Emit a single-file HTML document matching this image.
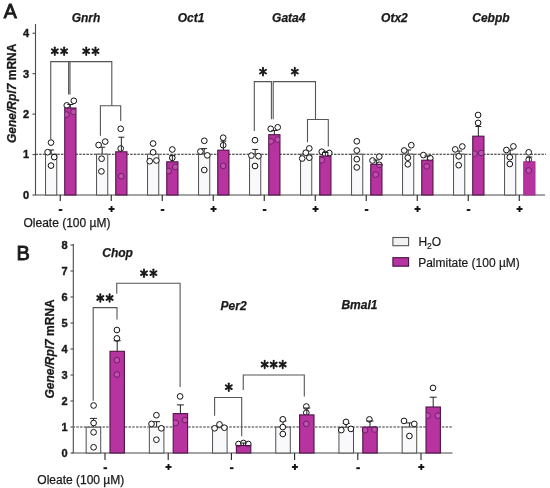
<!DOCTYPE html>
<html><head><meta charset="utf-8"><title>Figure</title>
<style>
html,body{margin:0;padding:0;background:#fff;}
body{width:550px;height:488px;overflow:hidden;font-family:"Liberation Sans", sans-serif;}
svg{display:block;filter:blur(0.3px);}
</style></head><body>
<svg width="550" height="488" viewBox="0 0 550 488"><rect width="550" height="488" fill="#fff"/><g stroke="#4a4a4a" stroke-width="1.1" fill="none"><line x1="35.5" y1="24" x2="35.5" y2="195.0"/><line x1="35" y1="195.0" x2="545" y2="195.0"/><line x1="32.5" y1="195.00" x2="35.5" y2="195.00"/><line x1="32.5" y1="154.56" x2="35.5" y2="154.56"/><line x1="32.5" y1="114.12" x2="35.5" y2="114.12"/><line x1="32.5" y1="73.68" x2="35.5" y2="73.68"/><line x1="32.5" y1="33.24" x2="35.5" y2="33.24"/><line x1="60.25" y1="195.0" x2="60.25" y2="201.0" stroke="#222"/><line x1="111.25" y1="195.0" x2="111.25" y2="201.0" stroke="#222"/><line x1="162.25" y1="195.0" x2="162.25" y2="201.0" stroke="#222"/><line x1="213.25" y1="195.0" x2="213.25" y2="201.0" stroke="#222"/><line x1="264.25" y1="195.0" x2="264.25" y2="201.0" stroke="#222"/><line x1="315.25" y1="195.0" x2="315.25" y2="201.0" stroke="#222"/><line x1="366.25" y1="195.0" x2="366.25" y2="201.0" stroke="#222"/><line x1="417.25" y1="195.0" x2="417.25" y2="201.0" stroke="#222"/><line x1="468.25" y1="195.0" x2="468.25" y2="201.0" stroke="#222"/><line x1="519.25" y1="195.0" x2="519.25" y2="201.0" stroke="#222"/></g><line x1="35.5" y1="154.3" x2="546" y2="154.3" stroke="#262626" stroke-width="1.1" stroke-dasharray="2.5 1.14" stroke-dashoffset="0"/><line x1="51.15" y1="154.2" x2="51.15" y2="150.0" stroke="#222" stroke-width="1"/><line x1="48.15" y1="150.0" x2="54.15" y2="150.0" stroke="#222" stroke-width="1"/><rect x="45.55" y="154.2" width="11.200000000000003" height="40.80000000000001" fill="#f9f9fb" stroke="#505050" stroke-width="1"/><circle cx="51.0" cy="142.6" r="2.85" fill="#fff" stroke="#111" stroke-width="1.0"/><circle cx="47.6" cy="152.2" r="2.85" fill="#fff" stroke="#111" stroke-width="1.0"/><circle cx="54.2" cy="157.1" r="2.85" fill="#fff" stroke="#111" stroke-width="1.0"/><circle cx="51.0" cy="165.6" r="2.85" fill="#fff" stroke="#111" stroke-width="1.0"/><circle cx="73.8" cy="100.8" r="2.85" fill="#fff" stroke="#111" stroke-width="1.0"/><circle cx="66.8" cy="105.4" r="2.85" fill="#fff" stroke="#111" stroke-width="1.0"/><rect x="64.75" y="108.0" width="11.200000000000003" height="87.0" fill="#b7339f" stroke="#4e1448" stroke-width="1.1"/><clipPath id="c1"><rect x="65.25" y="108.6" width="10.200000000000003" height="86.4"/></clipPath><g clip-path="url(#c1)"><circle cx="73.8" cy="100.8" r="2.85" fill="#c44db2" stroke="#6a2062" stroke-width="1.0"/><circle cx="66.8" cy="105.4" r="2.85" fill="#c44db2" stroke="#6a2062" stroke-width="1.0"/><circle cx="66.5" cy="114.6" r="2.85" fill="#c44db2" stroke="#6a2062" stroke-width="1.0"/><circle cx="73.5" cy="111.8" r="2.85" fill="#c44db2" stroke="#6a2062" stroke-width="1.0"/></g><line x1="70.35" y1="108.0" x2="70.35" y2="104.5" stroke="#222" stroke-width="1"/><line x1="67.35" y1="104.5" x2="73.35" y2="104.5" stroke="#222" stroke-width="1"/><line x1="102.15" y1="154.2" x2="102.15" y2="147.2" stroke="#222" stroke-width="1"/><line x1="99.15" y1="147.2" x2="105.15" y2="147.2" stroke="#222" stroke-width="1"/><rect x="96.55" y="154.2" width="11.200000000000003" height="40.80000000000001" fill="#f9f9fb" stroke="#505050" stroke-width="1"/><circle cx="98.6" cy="145.0" r="2.85" fill="#fff" stroke="#111" stroke-width="1.0"/><circle cx="105.2" cy="141.6" r="2.85" fill="#fff" stroke="#111" stroke-width="1.0"/><circle cx="101.6" cy="158.7" r="2.85" fill="#fff" stroke="#111" stroke-width="1.0"/><circle cx="101.4" cy="171.4" r="2.85" fill="#fff" stroke="#111" stroke-width="1.0"/><circle cx="120.7" cy="128.8" r="2.85" fill="#fff" stroke="#111" stroke-width="1.0"/><circle cx="120.7" cy="148.5" r="2.85" fill="#fff" stroke="#111" stroke-width="1.0"/><rect x="115.75" y="151.8" width="11.200000000000003" height="43.19999999999999" fill="#b7339f" stroke="#4e1448" stroke-width="1.1"/><clipPath id="c2"><rect x="116.25" y="152.4" width="10.200000000000003" height="42.59999999999999"/></clipPath><g clip-path="url(#c2)"><circle cx="120.7" cy="128.8" r="2.85" fill="#c44db2" stroke="#6a2062" stroke-width="1.0"/><circle cx="120.7" cy="148.5" r="2.85" fill="#c44db2" stroke="#6a2062" stroke-width="1.0"/><circle cx="121.2" cy="176.2" r="2.85" fill="#c44db2" stroke="#6a2062" stroke-width="1.0"/></g><line x1="121.35" y1="151.8" x2="121.35" y2="137.2" stroke="#222" stroke-width="1"/><line x1="118.35" y1="137.2" x2="124.35" y2="137.2" stroke="#222" stroke-width="1"/><line x1="153.15" y1="154.2" x2="153.15" y2="152.0" stroke="#222" stroke-width="1"/><line x1="150.15" y1="152.0" x2="156.15" y2="152.0" stroke="#222" stroke-width="1"/><rect x="147.55" y="154.2" width="11.199999999999989" height="40.80000000000001" fill="#f9f9fb" stroke="#505050" stroke-width="1"/><circle cx="153.1" cy="143.5" r="2.85" fill="#fff" stroke="#111" stroke-width="1.0"/><circle cx="153.1" cy="152.3" r="2.85" fill="#fff" stroke="#111" stroke-width="1.0"/><circle cx="149.7" cy="161.2" r="2.85" fill="#fff" stroke="#111" stroke-width="1.0"/><circle cx="156.4" cy="160.5" r="2.85" fill="#fff" stroke="#111" stroke-width="1.0"/><circle cx="172.3" cy="149.5" r="2.85" fill="#fff" stroke="#111" stroke-width="1.0"/><circle cx="172.3" cy="157.9" r="2.85" fill="#fff" stroke="#111" stroke-width="1.0"/><rect x="166.75" y="161.8" width="11.199999999999989" height="33.19999999999999" fill="#b7339f" stroke="#4e1448" stroke-width="1.1"/><clipPath id="c3"><rect x="167.25" y="162.4" width="10.199999999999989" height="32.59999999999999"/></clipPath><g clip-path="url(#c3)"><circle cx="172.3" cy="149.5" r="2.85" fill="#c44db2" stroke="#6a2062" stroke-width="1.0"/><circle cx="172.3" cy="157.9" r="2.85" fill="#c44db2" stroke="#6a2062" stroke-width="1.0"/><circle cx="175.3" cy="166.9" r="2.85" fill="#c44db2" stroke="#6a2062" stroke-width="1.0"/><circle cx="168.7" cy="171.0" r="2.85" fill="#c44db2" stroke="#6a2062" stroke-width="1.0"/></g><line x1="172.35" y1="161.8" x2="172.35" y2="155.6" stroke="#222" stroke-width="1"/><line x1="169.35" y1="155.6" x2="175.35" y2="155.6" stroke="#222" stroke-width="1"/><line x1="204.15" y1="154.2" x2="204.15" y2="148.6" stroke="#222" stroke-width="1"/><line x1="201.15" y1="148.6" x2="207.15" y2="148.6" stroke="#222" stroke-width="1"/><rect x="198.55" y="154.2" width="11.199999999999989" height="40.80000000000001" fill="#f9f9fb" stroke="#505050" stroke-width="1"/><circle cx="204.3" cy="140.8" r="2.85" fill="#fff" stroke="#111" stroke-width="1.0"/><circle cx="200.4" cy="151.5" r="2.85" fill="#fff" stroke="#111" stroke-width="1.0"/><circle cx="207.3" cy="155.4" r="2.85" fill="#fff" stroke="#111" stroke-width="1.0"/><circle cx="204.3" cy="170.0" r="2.85" fill="#fff" stroke="#111" stroke-width="1.0"/><circle cx="223.2" cy="137.7" r="2.85" fill="#fff" stroke="#111" stroke-width="1.0"/><circle cx="223.2" cy="145.2" r="2.85" fill="#fff" stroke="#111" stroke-width="1.0"/><rect x="217.75" y="150.2" width="11.199999999999989" height="44.80000000000001" fill="#b7339f" stroke="#4e1448" stroke-width="1.1"/><clipPath id="c4"><rect x="218.25" y="150.79999999999998" width="10.199999999999989" height="44.20000000000001"/></clipPath><g clip-path="url(#c4)"><circle cx="223.2" cy="137.7" r="2.85" fill="#c44db2" stroke="#6a2062" stroke-width="1.0"/><circle cx="223.2" cy="145.2" r="2.85" fill="#c44db2" stroke="#6a2062" stroke-width="1.0"/><circle cx="223.2" cy="165.9" r="2.85" fill="#c44db2" stroke="#6a2062" stroke-width="1.0"/></g><line x1="223.35" y1="150.2" x2="223.35" y2="141.1" stroke="#222" stroke-width="1"/><line x1="220.35" y1="141.1" x2="226.35" y2="141.1" stroke="#222" stroke-width="1"/><line x1="255.15" y1="154.2" x2="255.15" y2="149.4" stroke="#222" stroke-width="1"/><line x1="252.15" y1="149.4" x2="258.15" y2="149.4" stroke="#222" stroke-width="1"/><rect x="249.55" y="154.2" width="11.199999999999989" height="40.80000000000001" fill="#f9f9fb" stroke="#505050" stroke-width="1"/><circle cx="255.0" cy="140.2" r="2.85" fill="#fff" stroke="#111" stroke-width="1.0"/><circle cx="251.4" cy="155.6" r="2.85" fill="#fff" stroke="#111" stroke-width="1.0"/><circle cx="258.4" cy="156.2" r="2.85" fill="#fff" stroke="#111" stroke-width="1.0"/><circle cx="255.0" cy="166.0" r="2.85" fill="#fff" stroke="#111" stroke-width="1.0"/><circle cx="270.7" cy="128.8" r="2.85" fill="#fff" stroke="#111" stroke-width="1.0"/><circle cx="277.7" cy="127.3" r="2.85" fill="#fff" stroke="#111" stroke-width="1.0"/><rect x="268.75" y="134.7" width="11.199999999999989" height="60.30000000000001" fill="#b7339f" stroke="#4e1448" stroke-width="1.1"/><clipPath id="c5"><rect x="269.25" y="135.29999999999998" width="10.199999999999989" height="59.70000000000001"/></clipPath><g clip-path="url(#c5)"><circle cx="270.7" cy="128.8" r="2.85" fill="#c44db2" stroke="#6a2062" stroke-width="1.0"/><circle cx="277.7" cy="127.3" r="2.85" fill="#c44db2" stroke="#6a2062" stroke-width="1.0"/><circle cx="271.0" cy="141.4" r="2.85" fill="#c44db2" stroke="#6a2062" stroke-width="1.0"/><circle cx="277.7" cy="139.6" r="2.85" fill="#c44db2" stroke="#6a2062" stroke-width="1.0"/></g><line x1="274.35" y1="134.7" x2="274.35" y2="130.5" stroke="#222" stroke-width="1"/><line x1="271.35" y1="130.5" x2="277.35" y2="130.5" stroke="#222" stroke-width="1"/><line x1="306.15" y1="154.2" x2="306.15" y2="151.0" stroke="#222" stroke-width="1"/><line x1="303.15" y1="151.0" x2="309.15" y2="151.0" stroke="#222" stroke-width="1"/><rect x="300.55" y="154.2" width="11.199999999999989" height="40.80000000000001" fill="#f9f9fb" stroke="#505050" stroke-width="1"/><circle cx="309.3" cy="148.4" r="2.85" fill="#fff" stroke="#111" stroke-width="1.0"/><circle cx="305.8" cy="152.7" r="2.85" fill="#fff" stroke="#111" stroke-width="1.0"/><circle cx="302.2" cy="158.5" r="2.85" fill="#fff" stroke="#111" stroke-width="1.0"/><circle cx="309.3" cy="157.7" r="2.85" fill="#fff" stroke="#111" stroke-width="1.0"/><circle cx="321.8" cy="151.7" r="2.85" fill="#fff" stroke="#111" stroke-width="1.0"/><circle cx="329.3" cy="153.0" r="2.85" fill="#fff" stroke="#111" stroke-width="1.0"/><circle cx="325.2" cy="154.0" r="2.85" fill="#fff" stroke="#111" stroke-width="1.0"/><rect x="319.75" y="156.1" width="11.199999999999989" height="38.900000000000006" fill="#b7339f" stroke="#4e1448" stroke-width="1.1"/><clipPath id="c6"><rect x="320.25" y="156.7" width="10.199999999999989" height="38.300000000000004"/></clipPath><g clip-path="url(#c6)"><circle cx="321.8" cy="151.7" r="2.85" fill="#c44db2" stroke="#6a2062" stroke-width="1.0"/><circle cx="329.3" cy="153.0" r="2.85" fill="#c44db2" stroke="#6a2062" stroke-width="1.0"/><circle cx="325.2" cy="154.0" r="2.85" fill="#c44db2" stroke="#6a2062" stroke-width="1.0"/><circle cx="321.8" cy="160.2" r="2.85" fill="#c44db2" stroke="#6a2062" stroke-width="1.0"/></g><line x1="325.35" y1="156.1" x2="325.35" y2="152.5" stroke="#222" stroke-width="1"/><line x1="322.35" y1="152.5" x2="328.35" y2="152.5" stroke="#222" stroke-width="1"/><line x1="357.15" y1="154.2" x2="357.15" y2="151.0" stroke="#222" stroke-width="1"/><line x1="354.15" y1="151.0" x2="360.15" y2="151.0" stroke="#222" stroke-width="1"/><rect x="351.55" y="154.2" width="11.199999999999989" height="40.80000000000001" fill="#f9f9fb" stroke="#505050" stroke-width="1"/><circle cx="356.8" cy="141.3" r="2.85" fill="#fff" stroke="#111" stroke-width="1.0"/><circle cx="356.8" cy="150.5" r="2.85" fill="#fff" stroke="#111" stroke-width="1.0"/><circle cx="356.8" cy="159.2" r="2.85" fill="#fff" stroke="#111" stroke-width="1.0"/><circle cx="356.8" cy="167.4" r="2.85" fill="#fff" stroke="#111" stroke-width="1.0"/><circle cx="379.3" cy="156.6" r="2.85" fill="#fff" stroke="#111" stroke-width="1.0"/><circle cx="372.5" cy="160.5" r="2.85" fill="#fff" stroke="#111" stroke-width="1.0"/><circle cx="379.3" cy="164.8" r="2.85" fill="#fff" stroke="#111" stroke-width="1.0"/><rect x="370.75" y="164.3" width="11.199999999999989" height="30.69999999999999" fill="#b7339f" stroke="#4e1448" stroke-width="1.1"/><clipPath id="c7"><rect x="371.25" y="164.9" width="10.199999999999989" height="30.099999999999987"/></clipPath><g clip-path="url(#c7)"><circle cx="379.3" cy="156.6" r="2.85" fill="#c44db2" stroke="#6a2062" stroke-width="1.0"/><circle cx="372.5" cy="160.5" r="2.85" fill="#c44db2" stroke="#6a2062" stroke-width="1.0"/><circle cx="379.3" cy="164.8" r="2.85" fill="#c44db2" stroke="#6a2062" stroke-width="1.0"/><circle cx="375.7" cy="174.6" r="2.85" fill="#c44db2" stroke="#6a2062" stroke-width="1.0"/></g><line x1="376.35" y1="164.3" x2="376.35" y2="160.0" stroke="#222" stroke-width="1"/><line x1="373.35" y1="160.0" x2="379.35" y2="160.0" stroke="#222" stroke-width="1"/><line x1="408.15" y1="154.2" x2="408.15" y2="150.0" stroke="#222" stroke-width="1"/><line x1="405.15" y1="150.0" x2="411.15" y2="150.0" stroke="#222" stroke-width="1"/><rect x="402.55" y="154.2" width="11.199999999999989" height="40.80000000000001" fill="#f9f9fb" stroke="#505050" stroke-width="1"/><circle cx="411.3" cy="145.2" r="2.85" fill="#fff" stroke="#111" stroke-width="1.0"/><circle cx="404.2" cy="150.5" r="2.85" fill="#fff" stroke="#111" stroke-width="1.0"/><circle cx="407.8" cy="157.7" r="2.85" fill="#fff" stroke="#111" stroke-width="1.0"/><circle cx="407.8" cy="164.3" r="2.85" fill="#fff" stroke="#111" stroke-width="1.0"/><circle cx="423.4" cy="155.1" r="2.85" fill="#fff" stroke="#111" stroke-width="1.0"/><circle cx="430.3" cy="158.2" r="2.85" fill="#fff" stroke="#111" stroke-width="1.0"/><rect x="421.75" y="160.2" width="11.199999999999989" height="34.80000000000001" fill="#b7339f" stroke="#4e1448" stroke-width="1.1"/><clipPath id="c8"><rect x="422.25" y="160.79999999999998" width="10.199999999999989" height="34.20000000000001"/></clipPath><g clip-path="url(#c8)"><circle cx="423.4" cy="155.1" r="2.85" fill="#c44db2" stroke="#6a2062" stroke-width="1.0"/><circle cx="430.3" cy="158.2" r="2.85" fill="#c44db2" stroke="#6a2062" stroke-width="1.0"/><circle cx="426.7" cy="166.4" r="2.85" fill="#c44db2" stroke="#6a2062" stroke-width="1.0"/></g><line x1="427.35" y1="160.2" x2="427.35" y2="156.0" stroke="#222" stroke-width="1"/><line x1="424.35" y1="156.0" x2="430.35" y2="156.0" stroke="#222" stroke-width="1"/><line x1="459.15" y1="154.2" x2="459.15" y2="151.0" stroke="#222" stroke-width="1"/><line x1="456.15" y1="151.0" x2="462.15" y2="151.0" stroke="#222" stroke-width="1"/><rect x="453.55" y="154.2" width="11.199999999999989" height="40.80000000000001" fill="#f9f9fb" stroke="#505050" stroke-width="1"/><circle cx="455.2" cy="149.4" r="2.85" fill="#fff" stroke="#111" stroke-width="1.0"/><circle cx="462.3" cy="146.5" r="2.85" fill="#fff" stroke="#111" stroke-width="1.0"/><circle cx="458.7" cy="156.3" r="2.85" fill="#fff" stroke="#111" stroke-width="1.0"/><circle cx="458.7" cy="165.2" r="2.85" fill="#fff" stroke="#111" stroke-width="1.0"/><circle cx="478.1" cy="115.0" r="2.85" fill="#fff" stroke="#111" stroke-width="1.0"/><circle cx="478.1" cy="122.9" r="2.85" fill="#fff" stroke="#111" stroke-width="1.0"/><rect x="472.75" y="136.2" width="11.199999999999989" height="58.80000000000001" fill="#b7339f" stroke="#4e1448" stroke-width="1.1"/><clipPath id="c9"><rect x="473.25" y="136.79999999999998" width="10.199999999999989" height="58.20000000000001"/></clipPath><g clip-path="url(#c9)"><circle cx="478.1" cy="115.0" r="2.85" fill="#c44db2" stroke="#6a2062" stroke-width="1.0"/><circle cx="478.1" cy="122.9" r="2.85" fill="#c44db2" stroke="#6a2062" stroke-width="1.0"/><circle cx="474.5" cy="153.7" r="2.85" fill="#c44db2" stroke="#6a2062" stroke-width="1.0"/><circle cx="481.2" cy="153.0" r="2.85" fill="#c44db2" stroke="#6a2062" stroke-width="1.0"/></g><line x1="478.35" y1="136.2" x2="478.35" y2="126.5" stroke="#222" stroke-width="1"/><line x1="475.35" y1="126.5" x2="481.35" y2="126.5" stroke="#222" stroke-width="1"/><line x1="510.15" y1="154.2" x2="510.15" y2="150.0" stroke="#222" stroke-width="1"/><line x1="507.15" y1="150.0" x2="513.15" y2="150.0" stroke="#222" stroke-width="1"/><rect x="504.55" y="154.2" width="11.199999999999989" height="40.80000000000001" fill="#f9f9fb" stroke="#505050" stroke-width="1"/><circle cx="513.4" cy="146.4" r="2.85" fill="#fff" stroke="#111" stroke-width="1.0"/><circle cx="506.4" cy="150.0" r="2.85" fill="#fff" stroke="#111" stroke-width="1.0"/><circle cx="509.8" cy="157.2" r="2.85" fill="#fff" stroke="#111" stroke-width="1.0"/><circle cx="509.8" cy="164.0" r="2.85" fill="#fff" stroke="#111" stroke-width="1.0"/><circle cx="528.7" cy="152.3" r="2.85" fill="#fff" stroke="#111" stroke-width="1.0"/><circle cx="528.7" cy="159.7" r="2.85" fill="#fff" stroke="#111" stroke-width="1.0"/><rect x="523.75" y="161.8" width="11.200000000000045" height="33.19999999999999" fill="#b7339f" stroke="#a52c95" stroke-width="1.1"/><clipPath id="c10"><rect x="524.25" y="162.4" width="10.200000000000045" height="32.59999999999999"/></clipPath><g clip-path="url(#c10)"><circle cx="528.7" cy="152.3" r="2.85" fill="#c44db2" stroke="#6a2062" stroke-width="1.0"/><circle cx="528.7" cy="159.7" r="2.85" fill="#c44db2" stroke="#6a2062" stroke-width="1.0"/><circle cx="528.7" cy="170.5" r="2.85" fill="#c44db2" stroke="#6a2062" stroke-width="1.0"/></g><line x1="529.35" y1="161.8" x2="529.35" y2="157.0" stroke="#222" stroke-width="1"/><line x1="526.35" y1="157.0" x2="532.35" y2="157.0" stroke="#222" stroke-width="1"/><g stroke="#4a4a4a" stroke-width="1.1" fill="none"><line x1="73.3" y1="244" x2="73.3" y2="453.0"/><line x1="72.5" y1="453.0" x2="452.5" y2="453.0"/><line x1="70.5" y1="453.00" x2="73.3" y2="453.00"/><line x1="70.5" y1="427.00" x2="73.3" y2="427.00"/><line x1="70.5" y1="401.00" x2="73.3" y2="401.00"/><line x1="70.5" y1="375.00" x2="73.3" y2="375.00"/><line x1="70.5" y1="349.00" x2="73.3" y2="349.00"/><line x1="70.5" y1="323.00" x2="73.3" y2="323.00"/><line x1="70.5" y1="297.00" x2="73.3" y2="297.00"/><line x1="70.5" y1="271.00" x2="73.3" y2="271.00"/><line x1="70.5" y1="245.00" x2="73.3" y2="245.00"/><line x1="105.0" y1="453.0" x2="105.0" y2="460.0" stroke="#222"/><line x1="168.2" y1="453.0" x2="168.2" y2="460.0" stroke="#222"/><line x1="231.4" y1="453.0" x2="231.4" y2="460.0" stroke="#222"/><line x1="294.6" y1="453.0" x2="294.6" y2="460.0" stroke="#222"/><line x1="357.8" y1="453.0" x2="357.8" y2="460.0" stroke="#222"/><line x1="421.0" y1="453.0" x2="421.0" y2="460.0" stroke="#222"/></g><line x1="73.3" y1="427.0" x2="453" y2="427.0" stroke="#7a7a7a" stroke-width="1.4" stroke-dasharray="2.5 1.23" stroke-dashoffset="0.7"/><line x1="93.42500000000001" y1="427.2" x2="93.42500000000001" y2="418.4" stroke="#222" stroke-width="1"/><line x1="89.92500000000001" y1="418.4" x2="96.92500000000001" y2="418.4" stroke="#222" stroke-width="1"/><rect x="86.15" y="427.2" width="14.549999999999997" height="25.80000000000001" fill="#f9f9fb" stroke="#505050" stroke-width="1"/><circle cx="93.6" cy="405.5" r="2.85" fill="#fff" stroke="#111" stroke-width="1.0"/><circle cx="93.6" cy="423.0" r="2.85" fill="#fff" stroke="#111" stroke-width="1.0"/><circle cx="93.6" cy="432.3" r="2.85" fill="#fff" stroke="#111" stroke-width="1.0"/><circle cx="93.6" cy="447.3" r="2.85" fill="#fff" stroke="#111" stroke-width="1.0"/><circle cx="116.9" cy="330.0" r="2.85" fill="#fff" stroke="#111" stroke-width="1.0"/><circle cx="116.9" cy="338.4" r="2.85" fill="#fff" stroke="#111" stroke-width="1.0"/><rect x="110.0" y="351.3" width="14.400000000000006" height="101.69999999999999" fill="#b7339f" stroke="#4e1448" stroke-width="1.1"/><clipPath id="c11"><rect x="110.5" y="351.90000000000003" width="13.400000000000006" height="101.1"/></clipPath><g clip-path="url(#c11)"><circle cx="116.9" cy="330.0" r="2.85" fill="#c44db2" stroke="#6a2062" stroke-width="1.0"/><circle cx="116.9" cy="338.4" r="2.85" fill="#c44db2" stroke="#6a2062" stroke-width="1.0"/><circle cx="116.9" cy="360.2" r="2.85" fill="#c44db2" stroke="#6a2062" stroke-width="1.0"/><circle cx="116.9" cy="374.5" r="2.85" fill="#c44db2" stroke="#6a2062" stroke-width="1.0"/></g><line x1="117.2" y1="351.3" x2="117.2" y2="340.8" stroke="#222" stroke-width="1"/><line x1="113.7" y1="340.8" x2="120.7" y2="340.8" stroke="#222" stroke-width="1"/><line x1="156.625" y1="427.1" x2="156.625" y2="421.7" stroke="#222" stroke-width="1"/><line x1="153.125" y1="421.7" x2="160.125" y2="421.7" stroke="#222" stroke-width="1"/><rect x="149.35" y="427.1" width="14.549999999999983" height="25.899999999999977" fill="#f9f9fb" stroke="#505050" stroke-width="1"/><circle cx="156.4" cy="415.2" r="2.85" fill="#fff" stroke="#111" stroke-width="1.0"/><circle cx="151.5" cy="423.9" r="2.85" fill="#fff" stroke="#111" stroke-width="1.0"/><circle cx="161.3" cy="428.3" r="2.85" fill="#fff" stroke="#111" stroke-width="1.0"/><circle cx="156.4" cy="439.7" r="2.85" fill="#fff" stroke="#111" stroke-width="1.0"/><circle cx="180.1" cy="396.4" r="2.85" fill="#fff" stroke="#111" stroke-width="1.0"/><rect x="173.2" y="413.6" width="14.400000000000006" height="39.39999999999998" fill="#b7339f" stroke="#4e1448" stroke-width="1.1"/><clipPath id="c12"><rect x="173.7" y="414.20000000000005" width="13.400000000000006" height="38.799999999999976"/></clipPath><g clip-path="url(#c12)"><circle cx="180.1" cy="396.4" r="2.85" fill="#c44db2" stroke="#6a2062" stroke-width="1.0"/><circle cx="175.7" cy="422.9" r="2.85" fill="#c44db2" stroke="#6a2062" stroke-width="1.0"/><circle cx="185.0" cy="420.1" r="2.85" fill="#c44db2" stroke="#6a2062" stroke-width="1.0"/></g><line x1="180.39999999999998" y1="413.6" x2="180.39999999999998" y2="404.9" stroke="#222" stroke-width="1"/><line x1="176.89999999999998" y1="404.9" x2="183.89999999999998" y2="404.9" stroke="#222" stroke-width="1"/><line x1="219.825" y1="427.7" x2="219.825" y2="425.0" stroke="#222" stroke-width="1"/><line x1="216.325" y1="425.0" x2="223.325" y2="425.0" stroke="#222" stroke-width="1"/><rect x="212.55" y="427.7" width="14.549999999999983" height="25.30000000000001" fill="#f9f9fb" stroke="#505050" stroke-width="1"/><circle cx="214.6" cy="428.3" r="2.85" fill="#fff" stroke="#111" stroke-width="1.0"/><circle cx="219.5" cy="424.4" r="2.85" fill="#fff" stroke="#111" stroke-width="1.0"/><circle cx="224.4" cy="427.7" r="2.85" fill="#fff" stroke="#111" stroke-width="1.0"/><circle cx="238.5" cy="444.0" r="2.85" fill="#fff" stroke="#111" stroke-width="1.0"/><circle cx="243.4" cy="443.0" r="2.85" fill="#fff" stroke="#111" stroke-width="1.0"/><circle cx="248.3" cy="444.0" r="2.85" fill="#fff" stroke="#111" stroke-width="1.0"/><rect x="236.4" y="445.5" width="14.400000000000006" height="7.5" fill="#b7339f" stroke="#4e1448" stroke-width="1.1"/><clipPath id="c13"><rect x="236.9" y="446.1" width="13.400000000000006" height="6.9"/></clipPath><g clip-path="url(#c13)"><circle cx="238.5" cy="444.0" r="2.85" fill="#c44db2" stroke="#6a2062" stroke-width="1.0"/><circle cx="243.4" cy="443.0" r="2.85" fill="#c44db2" stroke="#6a2062" stroke-width="1.0"/><circle cx="248.3" cy="444.0" r="2.85" fill="#c44db2" stroke="#6a2062" stroke-width="1.0"/></g><line x1="243.60000000000002" y1="445.5" x2="243.60000000000002" y2="443.0" stroke="#222" stroke-width="1"/><line x1="240.10000000000002" y1="443.0" x2="247.10000000000002" y2="443.0" stroke="#222" stroke-width="1"/><line x1="283.025" y1="427.1" x2="283.025" y2="421.0" stroke="#222" stroke-width="1"/><line x1="279.525" y1="421.0" x2="286.525" y2="421.0" stroke="#222" stroke-width="1"/><rect x="275.75" y="427.1" width="14.550000000000011" height="25.899999999999977" fill="#f9f9fb" stroke="#505050" stroke-width="1"/><circle cx="282.8" cy="419.3" r="2.85" fill="#fff" stroke="#111" stroke-width="1.0"/><circle cx="282.8" cy="427.1" r="2.85" fill="#fff" stroke="#111" stroke-width="1.0"/><circle cx="282.8" cy="434.0" r="2.85" fill="#fff" stroke="#111" stroke-width="1.0"/><circle cx="306.3" cy="406.5" r="2.85" fill="#fff" stroke="#111" stroke-width="1.0"/><circle cx="306.3" cy="412.7" r="2.85" fill="#fff" stroke="#111" stroke-width="1.0"/><rect x="299.6" y="414.9" width="14.399999999999977" height="38.10000000000002" fill="#b7339f" stroke="#4e1448" stroke-width="1.1"/><clipPath id="c14"><rect x="300.1" y="415.5" width="13.399999999999977" height="37.50000000000002"/></clipPath><g clip-path="url(#c14)"><circle cx="306.3" cy="406.5" r="2.85" fill="#c44db2" stroke="#6a2062" stroke-width="1.0"/><circle cx="306.3" cy="412.7" r="2.85" fill="#c44db2" stroke="#6a2062" stroke-width="1.0"/><circle cx="306.3" cy="423.9" r="2.85" fill="#c44db2" stroke="#6a2062" stroke-width="1.0"/></g><line x1="306.8" y1="414.9" x2="306.8" y2="408.0" stroke="#222" stroke-width="1"/><line x1="303.3" y1="408.0" x2="310.3" y2="408.0" stroke="#222" stroke-width="1"/><line x1="346.225" y1="427.3" x2="346.225" y2="423.5" stroke="#222" stroke-width="1"/><line x1="342.725" y1="423.5" x2="349.725" y2="423.5" stroke="#222" stroke-width="1"/><rect x="338.95" y="427.3" width="14.550000000000011" height="25.69999999999999" fill="#f9f9fb" stroke="#505050" stroke-width="1"/><circle cx="346.0" cy="421.9" r="2.85" fill="#fff" stroke="#111" stroke-width="1.0"/><circle cx="341.3" cy="430.1" r="2.85" fill="#fff" stroke="#111" stroke-width="1.0"/><circle cx="350.9" cy="428.9" r="2.85" fill="#fff" stroke="#111" stroke-width="1.0"/><circle cx="369.4" cy="419.4" r="2.85" fill="#fff" stroke="#111" stroke-width="1.0"/><circle cx="365.1" cy="430.1" r="2.85" fill="#fff" stroke="#111" stroke-width="1.0"/><circle cx="374.5" cy="429.5" r="2.85" fill="#fff" stroke="#111" stroke-width="1.0"/><rect x="362.8" y="427.1" width="14.399999999999977" height="25.899999999999977" fill="#b7339f" stroke="#4e1448" stroke-width="1.1"/><clipPath id="c15"><rect x="363.3" y="427.70000000000005" width="13.399999999999977" height="25.299999999999976"/></clipPath><g clip-path="url(#c15)"><circle cx="369.4" cy="419.4" r="2.85" fill="#c44db2" stroke="#6a2062" stroke-width="1.0"/><circle cx="365.1" cy="430.1" r="2.85" fill="#c44db2" stroke="#6a2062" stroke-width="1.0"/><circle cx="374.5" cy="429.5" r="2.85" fill="#c44db2" stroke="#6a2062" stroke-width="1.0"/></g><line x1="370.0" y1="427.1" x2="370.0" y2="421.0" stroke="#222" stroke-width="1"/><line x1="366.5" y1="421.0" x2="373.5" y2="421.0" stroke="#222" stroke-width="1"/><line x1="409.42499999999995" y1="427.1" x2="409.42499999999995" y2="422.9" stroke="#222" stroke-width="1"/><line x1="405.92499999999995" y1="422.9" x2="412.92499999999995" y2="422.9" stroke="#222" stroke-width="1"/><rect x="402.15" y="427.1" width="14.550000000000011" height="25.899999999999977" fill="#f9f9fb" stroke="#505050" stroke-width="1"/><circle cx="404.0" cy="420.9" r="2.85" fill="#fff" stroke="#111" stroke-width="1.0"/><circle cx="414.3" cy="423.9" r="2.85" fill="#fff" stroke="#111" stroke-width="1.0"/><circle cx="409.4" cy="436.0" r="2.85" fill="#fff" stroke="#111" stroke-width="1.0"/><circle cx="433.0" cy="387.9" r="2.85" fill="#fff" stroke="#111" stroke-width="1.0"/><rect x="426.0" y="407.0" width="14.399999999999977" height="46.0" fill="#b7339f" stroke="#4e1448" stroke-width="1.1"/><clipPath id="c16"><rect x="426.5" y="407.6" width="13.399999999999977" height="45.4"/></clipPath><g clip-path="url(#c16)"><circle cx="433.0" cy="387.9" r="2.85" fill="#c44db2" stroke="#6a2062" stroke-width="1.0"/><circle cx="427.7" cy="415.7" r="2.85" fill="#c44db2" stroke="#6a2062" stroke-width="1.0"/><circle cx="437.9" cy="415.7" r="2.85" fill="#c44db2" stroke="#6a2062" stroke-width="1.0"/></g><line x1="433.2" y1="407.0" x2="433.2" y2="397.2" stroke="#222" stroke-width="1"/><line x1="429.7" y1="397.2" x2="436.7" y2="397.2" stroke="#222" stroke-width="1"/><g stroke="#555" stroke-width="1.1" fill="none"><path d="M50.75,139.6 V61.6 H111.8 V105.75"/><path d="M68.6,61.6 V94.6 M70.0,61.6 V94.6"/><path d="M100.4,135.7 V105.75 H120.7 V121.1"/><path d="M254.3,131 V81.6 H271.4 V119.3"/><path d="M273.2,119.3 V81.6 H315.5 V119.5"/><path d="M307.5,142.3 V119.5 H328.3 V146.4"/><path d="M93.2,400.7 V307.6 H117 V319.5"/><path d="M116.75,293.75 V283.25 H180.1 V386.9"/><path d="M214.6,415.7 V397.5 H241.7 V436.3"/><path d="M243.25,390 V375 H304.3 V396.4"/></g><g stroke="#1a1a1a" stroke-width="1.9" stroke-linecap="round"><line x1="54.80" y1="47.35" x2="54.80" y2="55.05"/><line x1="51.76" y1="49.30" x2="57.84" y2="53.10"/><line x1="57.84" y1="49.30" x2="51.76" y2="53.10"/><line x1="64.10" y1="47.35" x2="64.10" y2="55.05"/><line x1="61.06" y1="49.30" x2="67.14" y2="53.10"/><line x1="67.14" y1="49.30" x2="61.06" y2="53.10"/></g><g stroke="#1a1a1a" stroke-width="1.9" stroke-linecap="round"><line x1="86.20" y1="47.35" x2="86.20" y2="55.05"/><line x1="83.16" y1="49.30" x2="89.24" y2="53.10"/><line x1="89.24" y1="49.30" x2="83.16" y2="53.10"/><line x1="95.50" y1="47.35" x2="95.50" y2="55.05"/><line x1="92.46" y1="49.30" x2="98.54" y2="53.10"/><line x1="98.54" y1="49.30" x2="92.46" y2="53.10"/></g><g stroke="#1a1a1a" stroke-width="1.9" stroke-linecap="round"><line x1="263.00" y1="67.75" x2="263.00" y2="75.45"/><line x1="259.96" y1="69.70" x2="266.04" y2="73.50"/><line x1="266.04" y1="69.70" x2="259.96" y2="73.50"/></g><g stroke="#1a1a1a" stroke-width="1.9" stroke-linecap="round"><line x1="294.80" y1="67.75" x2="294.80" y2="75.45"/><line x1="291.76" y1="69.70" x2="297.84" y2="73.50"/><line x1="297.84" y1="69.70" x2="291.76" y2="73.50"/></g><g stroke="#1a1a1a" stroke-width="1.9" stroke-linecap="round"><line x1="100.30" y1="294.15" x2="100.30" y2="301.85"/><line x1="97.26" y1="296.10" x2="103.34" y2="299.90"/><line x1="103.34" y1="296.10" x2="97.26" y2="299.90"/><line x1="109.60" y1="294.15" x2="109.60" y2="301.85"/><line x1="106.56" y1="296.10" x2="112.64" y2="299.90"/><line x1="112.64" y1="296.10" x2="106.56" y2="299.90"/></g><g stroke="#1a1a1a" stroke-width="1.9" stroke-linecap="round"><line x1="144.00" y1="269.35" x2="144.00" y2="277.05"/><line x1="140.96" y1="271.30" x2="147.04" y2="275.10"/><line x1="147.04" y1="271.30" x2="140.96" y2="275.10"/><line x1="153.40" y1="269.35" x2="153.40" y2="277.05"/><line x1="150.36" y1="271.30" x2="156.44" y2="275.10"/><line x1="156.44" y1="271.30" x2="150.36" y2="275.10"/></g><g stroke="#1a1a1a" stroke-width="1.9" stroke-linecap="round"><line x1="228.80" y1="383.35" x2="228.80" y2="391.05"/><line x1="225.76" y1="385.30" x2="231.84" y2="389.10"/><line x1="231.84" y1="385.30" x2="225.76" y2="389.10"/></g><g stroke="#1a1a1a" stroke-width="1.9" stroke-linecap="round"><line x1="264.70" y1="360.65" x2="264.70" y2="368.35"/><line x1="261.66" y1="362.60" x2="267.74" y2="366.40"/><line x1="267.74" y1="362.60" x2="261.66" y2="366.40"/><line x1="273.70" y1="360.65" x2="273.70" y2="368.35"/><line x1="270.66" y1="362.60" x2="276.74" y2="366.40"/><line x1="276.74" y1="362.60" x2="270.66" y2="366.40"/><line x1="282.70" y1="360.65" x2="282.70" y2="368.35"/><line x1="279.66" y1="362.60" x2="285.74" y2="366.40"/><line x1="285.74" y1="362.60" x2="279.66" y2="366.40"/></g><g font-family="Liberation Sans, sans-serif" fill="#1a1a1a" stroke="#1a1a1a" stroke-width="0.25"><text x="3.85" y="18.0" font-size="19.5" stroke="#1a1a1a" stroke-width="0.9">A</text><text x="16.5" y="259.6" font-size="20" stroke="#1a1a1a" stroke-width="0.9">B</text><text x="29.2" y="198.90" font-size="11" font-weight="bold" text-anchor="end" stroke="#1a1a1a" stroke-width="0.4">0</text><text x="29.2" y="158.46" font-size="11" font-weight="bold" text-anchor="end" stroke="#1a1a1a" stroke-width="0.4">1</text><text x="29.2" y="118.02" font-size="11" font-weight="bold" text-anchor="end" stroke="#1a1a1a" stroke-width="0.4">2</text><text x="29.2" y="77.58" font-size="11" font-weight="bold" text-anchor="end" stroke="#1a1a1a" stroke-width="0.4">3</text><text x="29.2" y="37.14" font-size="11" font-weight="bold" text-anchor="end" stroke="#1a1a1a" stroke-width="0.4">4</text><text x="67.6" y="456.90" font-size="11" font-weight="bold" text-anchor="end" stroke="#1a1a1a" stroke-width="0.4">0</text><text x="67.6" y="430.90" font-size="11" font-weight="bold" text-anchor="end" stroke="#1a1a1a" stroke-width="0.4">1</text><text x="67.6" y="404.90" font-size="11" font-weight="bold" text-anchor="end" stroke="#1a1a1a" stroke-width="0.4">2</text><text x="67.6" y="378.90" font-size="11" font-weight="bold" text-anchor="end" stroke="#1a1a1a" stroke-width="0.4">3</text><text x="67.6" y="352.90" font-size="11" font-weight="bold" text-anchor="end" stroke="#1a1a1a" stroke-width="0.4">4</text><text x="67.6" y="326.90" font-size="11" font-weight="bold" text-anchor="end" stroke="#1a1a1a" stroke-width="0.4">5</text><text x="67.6" y="300.90" font-size="11" font-weight="bold" text-anchor="end" stroke="#1a1a1a" stroke-width="0.4">6</text><text x="67.6" y="274.90" font-size="11" font-weight="bold" text-anchor="end" stroke="#1a1a1a" stroke-width="0.4">7</text><text x="67.6" y="248.90" font-size="11" font-weight="bold" text-anchor="end" stroke="#1a1a1a" stroke-width="0.4">8</text><text x="86" y="22" font-size="12" font-weight="bold" font-style="italic" text-anchor="middle">Gnrh</text><text x="191" y="22" font-size="12" font-weight="bold" font-style="italic" text-anchor="middle">Oct1</text><text x="288.8" y="22" font-size="12" font-weight="bold" font-style="italic" text-anchor="middle">Gata4</text><text x="394.4" y="22" font-size="12" font-weight="bold" font-style="italic" text-anchor="middle">Otx2</text><text x="490.9" y="22" font-size="12" font-weight="bold" font-style="italic" text-anchor="middle">Cebpb</text><text x="117.6" y="257.1" font-size="12" font-weight="bold" font-style="italic" text-anchor="middle">Chop</text><text x="233.6" y="310.1" font-size="12" font-weight="bold" font-style="italic" text-anchor="middle">Per2</text><text x="359.4" y="309.3" font-size="12" font-weight="bold" font-style="italic" text-anchor="middle">Bmal1</text></g><g stroke="#111" stroke-width="1.9"><line x1="58.75" y1="210.0" x2="62.349999999999994" y2="210.0"/><line x1="108.55" y1="209.0" x2="114.55" y2="209.0"/><line x1="111.55" y1="206.0" x2="111.55" y2="212.0"/><line x1="160.75" y1="210.0" x2="164.35000000000002" y2="210.0"/><line x1="210.55" y1="209.0" x2="216.55" y2="209.0"/><line x1="213.55" y1="206.0" x2="213.55" y2="212.0"/><line x1="262.75" y1="210.0" x2="266.35" y2="210.0"/><line x1="312.55" y1="209.0" x2="318.55" y2="209.0"/><line x1="315.55" y1="206.0" x2="315.55" y2="212.0"/><line x1="364.75" y1="210.0" x2="368.35" y2="210.0"/><line x1="414.55" y1="209.0" x2="420.55" y2="209.0"/><line x1="417.55" y1="206.0" x2="417.55" y2="212.0"/><line x1="466.75" y1="210.0" x2="470.35" y2="210.0"/><line x1="516.55" y1="209.0" x2="522.55" y2="209.0"/><line x1="519.55" y1="206.0" x2="519.55" y2="212.0"/><line x1="103.5" y1="468.2" x2="107.1" y2="468.2"/><line x1="165.5" y1="467.0" x2="171.5" y2="467.0"/><line x1="168.5" y1="464.0" x2="168.5" y2="470.0"/><line x1="229.9" y1="468.2" x2="233.50000000000003" y2="468.2"/><line x1="291.90000000000003" y1="467.0" x2="297.90000000000003" y2="467.0"/><line x1="294.90000000000003" y1="464.0" x2="294.90000000000003" y2="470.0"/><line x1="356.3" y1="468.2" x2="359.90000000000003" y2="468.2"/><line x1="418.3" y1="467.0" x2="424.3" y2="467.0"/><line x1="421.3" y1="464.0" x2="421.3" y2="470.0"/></g><g font-family="Liberation Sans, sans-serif" fill="#1a1a1a" stroke="#1a1a1a" stroke-width="0.25"><text x="23.5" y="226.6" font-size="12">Oleate (100 µM)</text><text x="37.3" y="483.5" font-size="12">Oleate (100 µM)</text><text transform="translate(16.4,93.3) rotate(-90)" font-size="12" font-weight="bold" text-anchor="middle"><tspan font-style="italic">Gene/Rpl7</tspan> mRNA</text><text transform="translate(54.4,348.9) rotate(-90)" font-size="12" font-weight="bold" text-anchor="middle"><tspan font-style="italic">Gene/Rpl7</tspan> mRNA</text></g><rect x="392.9" y="237.5" width="15.7" height="8.2" fill="#f2f2f4" stroke="#555" stroke-width="1.1"/><rect x="392.9" y="257.7" width="15.7" height="8.5" fill="#b7339f" stroke="#45103f" stroke-width="1.1"/><g font-family="Liberation Sans, sans-serif" fill="#1a1a1a" font-size="12" stroke="#1a1a1a" stroke-width="0.2"><text x="418.4" y="246.0">H<tspan font-size="8.5" dy="3">2</tspan><tspan dy="-3">O</tspan></text><text x="418.2" y="266.7">Palmitate (100 µM)</text></g></svg>
</body></html>
